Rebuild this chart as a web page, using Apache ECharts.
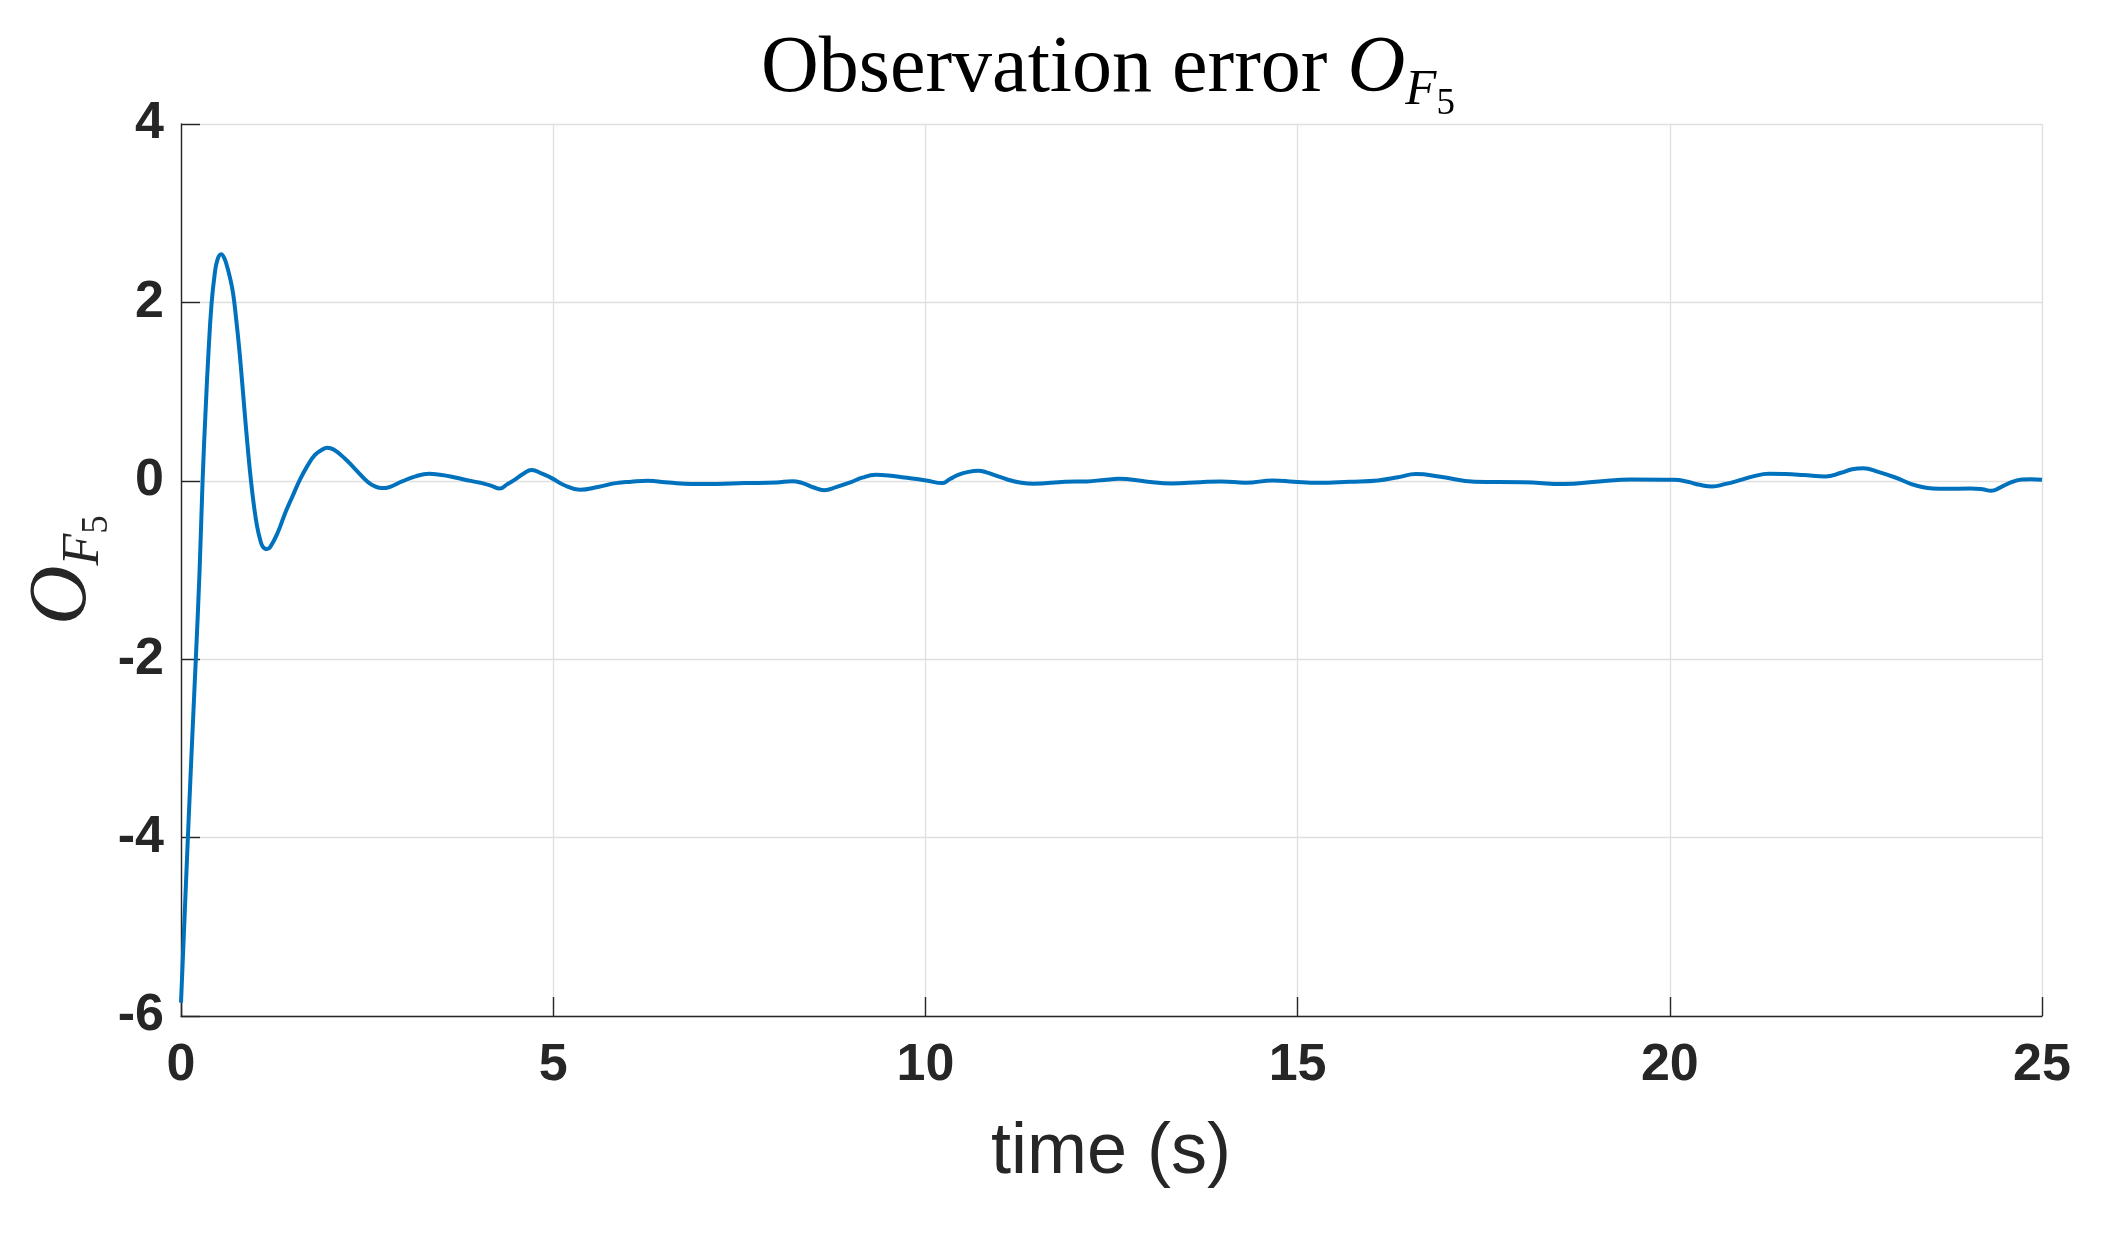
<!DOCTYPE html>
<html>
<head>
<meta charset="utf-8">
<script src="https://cdn.jsdelivr.net/npm/echarts@6.0.0/dist/echarts.min.js"></script>
<style>
html,body{margin:0;padding:0;background:#fff;}
#chart{width:2103px;height:1236px;}
</style>
</head>
<body>
<div id="chart"></div>
<script>
// time (s)
var time = [0, 0.05, 0.10, 0.15, 0.20, 0.25, 0.29, 0.33, 0.37, 0.41, 0.45, 0.49, 0.54, 0.58, 0.62, 0.66, 0.70, 0.74, 0.78, 0.82, 0.86, 0.90, 0.94, 0.98, 1.02, 1.06, 1.10, 1.155, 1.2, 1.3, 1.4, 1.5, 1.59, 1.7, 1.8, 1.9, 1.96, 2.05, 2.2, 2.33, 2.51, 2.6, 2.7, 2.8, 2.97, 3.15, 3.33, 3.5, 3.62, 3.8, 3.98, 4.08, 4.18, 4.28, 4.38, 4.48, 4.6, 4.71, 4.85, 4.98, 5.15, 5.36, 5.6, 5.84, 6.05, 6.27, 6.55, 6.85, 7.2, 7.57, 8.0, 8.21, 8.35, 8.5, 8.64, 8.8, 9.0, 9.15, 9.33, 9.5, 9.72, 10.01, 10.23, 10.33, 10.44, 10.58, 10.71, 10.82, 10.94, 11.1, 11.27, 11.45, 11.88, 12.17, 12.4, 12.6, 12.96, 13.31, 13.69, 13.98, 14.3, 14.67, 14.95, 15.28, 15.7, 16.08, 16.35, 16.59, 16.92, 17.38, 18.03, 18.58, 19.05, 19.48, 20.06, 20.24, 20.4, 20.57, 20.75, 20.93, 21.12, 21.33, 21.55, 21.8, 22.09, 22.3, 22.45, 22.6, 22.8, 23.03, 23.32, 23.68, 24.04, 24.2, 24.32, 24.43, 24.53, 24.73, 24.85, 25.0];
// observation error O_F5
var errorValues = [-5.85, -4.85, -3.85, -2.9, -1.98, -1.0, 0.0, 0.78, 1.45, 1.98, 2.3, 2.48, 2.54, 2.5, 2.4, 2.27, 2.1, 1.82, 1.5, 1.12, 0.72, 0.34, 0.0, -0.28, -0.5, -0.65, -0.74, -0.765, -0.74, -0.58, -0.36, -0.17, 0.0, 0.17, 0.29, 0.35, 0.37, 0.35, 0.25, 0.14, -0.013, -0.06, -0.082, -0.07, -0.007, 0.05, 0.078, 0.065, 0.049, 0.015, -0.015, -0.034, -0.06, -0.086, -0.04, 0.011, 0.08, 0.12, 0.08, 0.03, -0.05, -0.10, -0.07, -0.026, -0.01, 0.0, -0.02, -0.037, -0.035, -0.026, -0.019, -0.004, -0.026, -0.075, -0.105, -0.07, -0.015, 0.035, 0.067, 0.06, 0.037, 0.004, -0.026, 0.02, 0.067, 0.1, 0.112, 0.095, 0.06, 0.015, -0.019, -0.034, -0.011, -0.007, 0.01, 0.022, -0.007, -0.03, -0.015, -0.007, -0.022, 0.004, -0.01, -0.022, -0.01, 0.004, 0.04, 0.075, 0.045, -0.011, -0.015, -0.037, -0.007, 0.015, 0.011, -0.011, -0.045, -0.064, -0.035, 0.004, 0.05, 0.078, 0.075, 0.064, 0.049, 0.09, 0.13, 0.142, 0.1, 0.037, -0.056, -0.09, -0.086, -0.095, -0.112, -0.08, -0.037, 0.015, 0.018, 0.011];
var xTicks = [0, 5, 10, 15, 20, 25];
var yTicks = [-6, -4, -2, 0, 2, 4];
var titleText = 'Observation error ';
var xName = 'time (s)';

var seriesData = time.map(function (t, i) { return [t, errorValues[i]]; });

var axisColor = '#262626';
var gridColor = '#dfdfdf';
var tickFont = {fontFamily: 'Liberation Sans', fontWeight: 'bold', fontSize: 52, color: axisColor};

var chart = echarts.init(document.getElementById('chart'), null, {renderer: 'canvas'});
chart.setOption({
  backgroundColor: '#ffffff',
  animation: false,
  grid: {left: 181, right: 61, top: 124, bottom: 220, containLabel: false, outerBoundsMode: 'none'},
  xAxis: {
    type: 'value',
    min: xTicks[0], max: xTicks[xTicks.length - 1], interval: xTicks[1] - xTicks[0],
    axisLine: {show: true, onZero: false, lineStyle: {color: axisColor, width: 1.4}},
    axisTick: {show: true, inside: true, length: 19, lineStyle: {color: axisColor, width: 1.4}},
    axisLabel: Object.assign({margin: 24}, tickFont),
    splitLine: {show: true, lineStyle: {color: gridColor, width: 1.3}}
  },
  yAxis: {
    type: 'value',
    min: yTicks[0], max: yTicks[yTicks.length - 1], interval: yTicks[1] - yTicks[0],
    axisLine: {show: true, onZero: false, lineStyle: {color: axisColor, width: 1.4}},
    axisTick: {show: true, inside: true, length: 19, lineStyle: {color: axisColor, width: 1.4}},
    axisLabel: Object.assign({margin: 17}, tickFont),
    splitLine: {show: true, lineStyle: {color: gridColor, width: 1.3}}
  },
  series: [{
    type: 'line',
    data: seriesData,
    showSymbol: false,
    smooth: 0.45,
    clip: true,
    lineStyle: {color: '#0072BD', width: 4},
    itemStyle: {color: '#0072BD'}
  }],
  graphic: [
    {
      type: 'text', x: 1108, y: 70, silent: true,
      style: {
        text: '{r|' + titleText + '}{i|O}{f|F}{d|5}',
        align: 'center', verticalAlign: 'middle',
        textAlign: 'center', textVerticalAlign: 'middle',
        fill: '#000',
        rich: {
          r: {fontFamily: 'Liberation Serif', fontSize: 80, color: '#000'},
          i: {fontFamily: 'Liberation Serif', fontStyle: 'italic', fontSize: 80, color: '#000'},
          f: {fontFamily: 'Liberation Serif', fontStyle: 'italic', fontSize: 51, color: '#000', padding: [42, 0, 0, 0]},
          d: {fontFamily: 'Liberation Serif', fontSize: 37, color: '#000', padding: [68, 0, 0, 0]}
        }
      }
    },
    {
      type: 'text', x: 63, y: 570, rotation: Math.PI / 2, silent: true,
      style: {
        text: '{i|O}{f|F}{d|5}',
        align: 'center', verticalAlign: 'middle',
        textAlign: 'center', textVerticalAlign: 'middle',
        fill: axisColor,
        rich: {
          i: {fontFamily: 'Liberation Serif', fontStyle: 'italic', fontSize: 82, color: axisColor},
          f: {fontFamily: 'Liberation Serif', fontStyle: 'italic', fontSize: 52, color: axisColor, padding: [42, 0, 0, 0]},
          d: {fontFamily: 'Liberation Serif', fontSize: 37, color: axisColor, padding: [68, 0, 0, 0]}
        }
      }
    },
    {
      type: 'text', x: 1111, y: 1153, silent: true,
      style: {
        text: xName,
        align: 'center', verticalAlign: 'middle',
        textAlign: 'center', textVerticalAlign: 'middle',
        fontFamily: 'Liberation Sans', fontSize: 72, fill: axisColor
      }
    }
  ]
});
</script>
</body>
</html>
